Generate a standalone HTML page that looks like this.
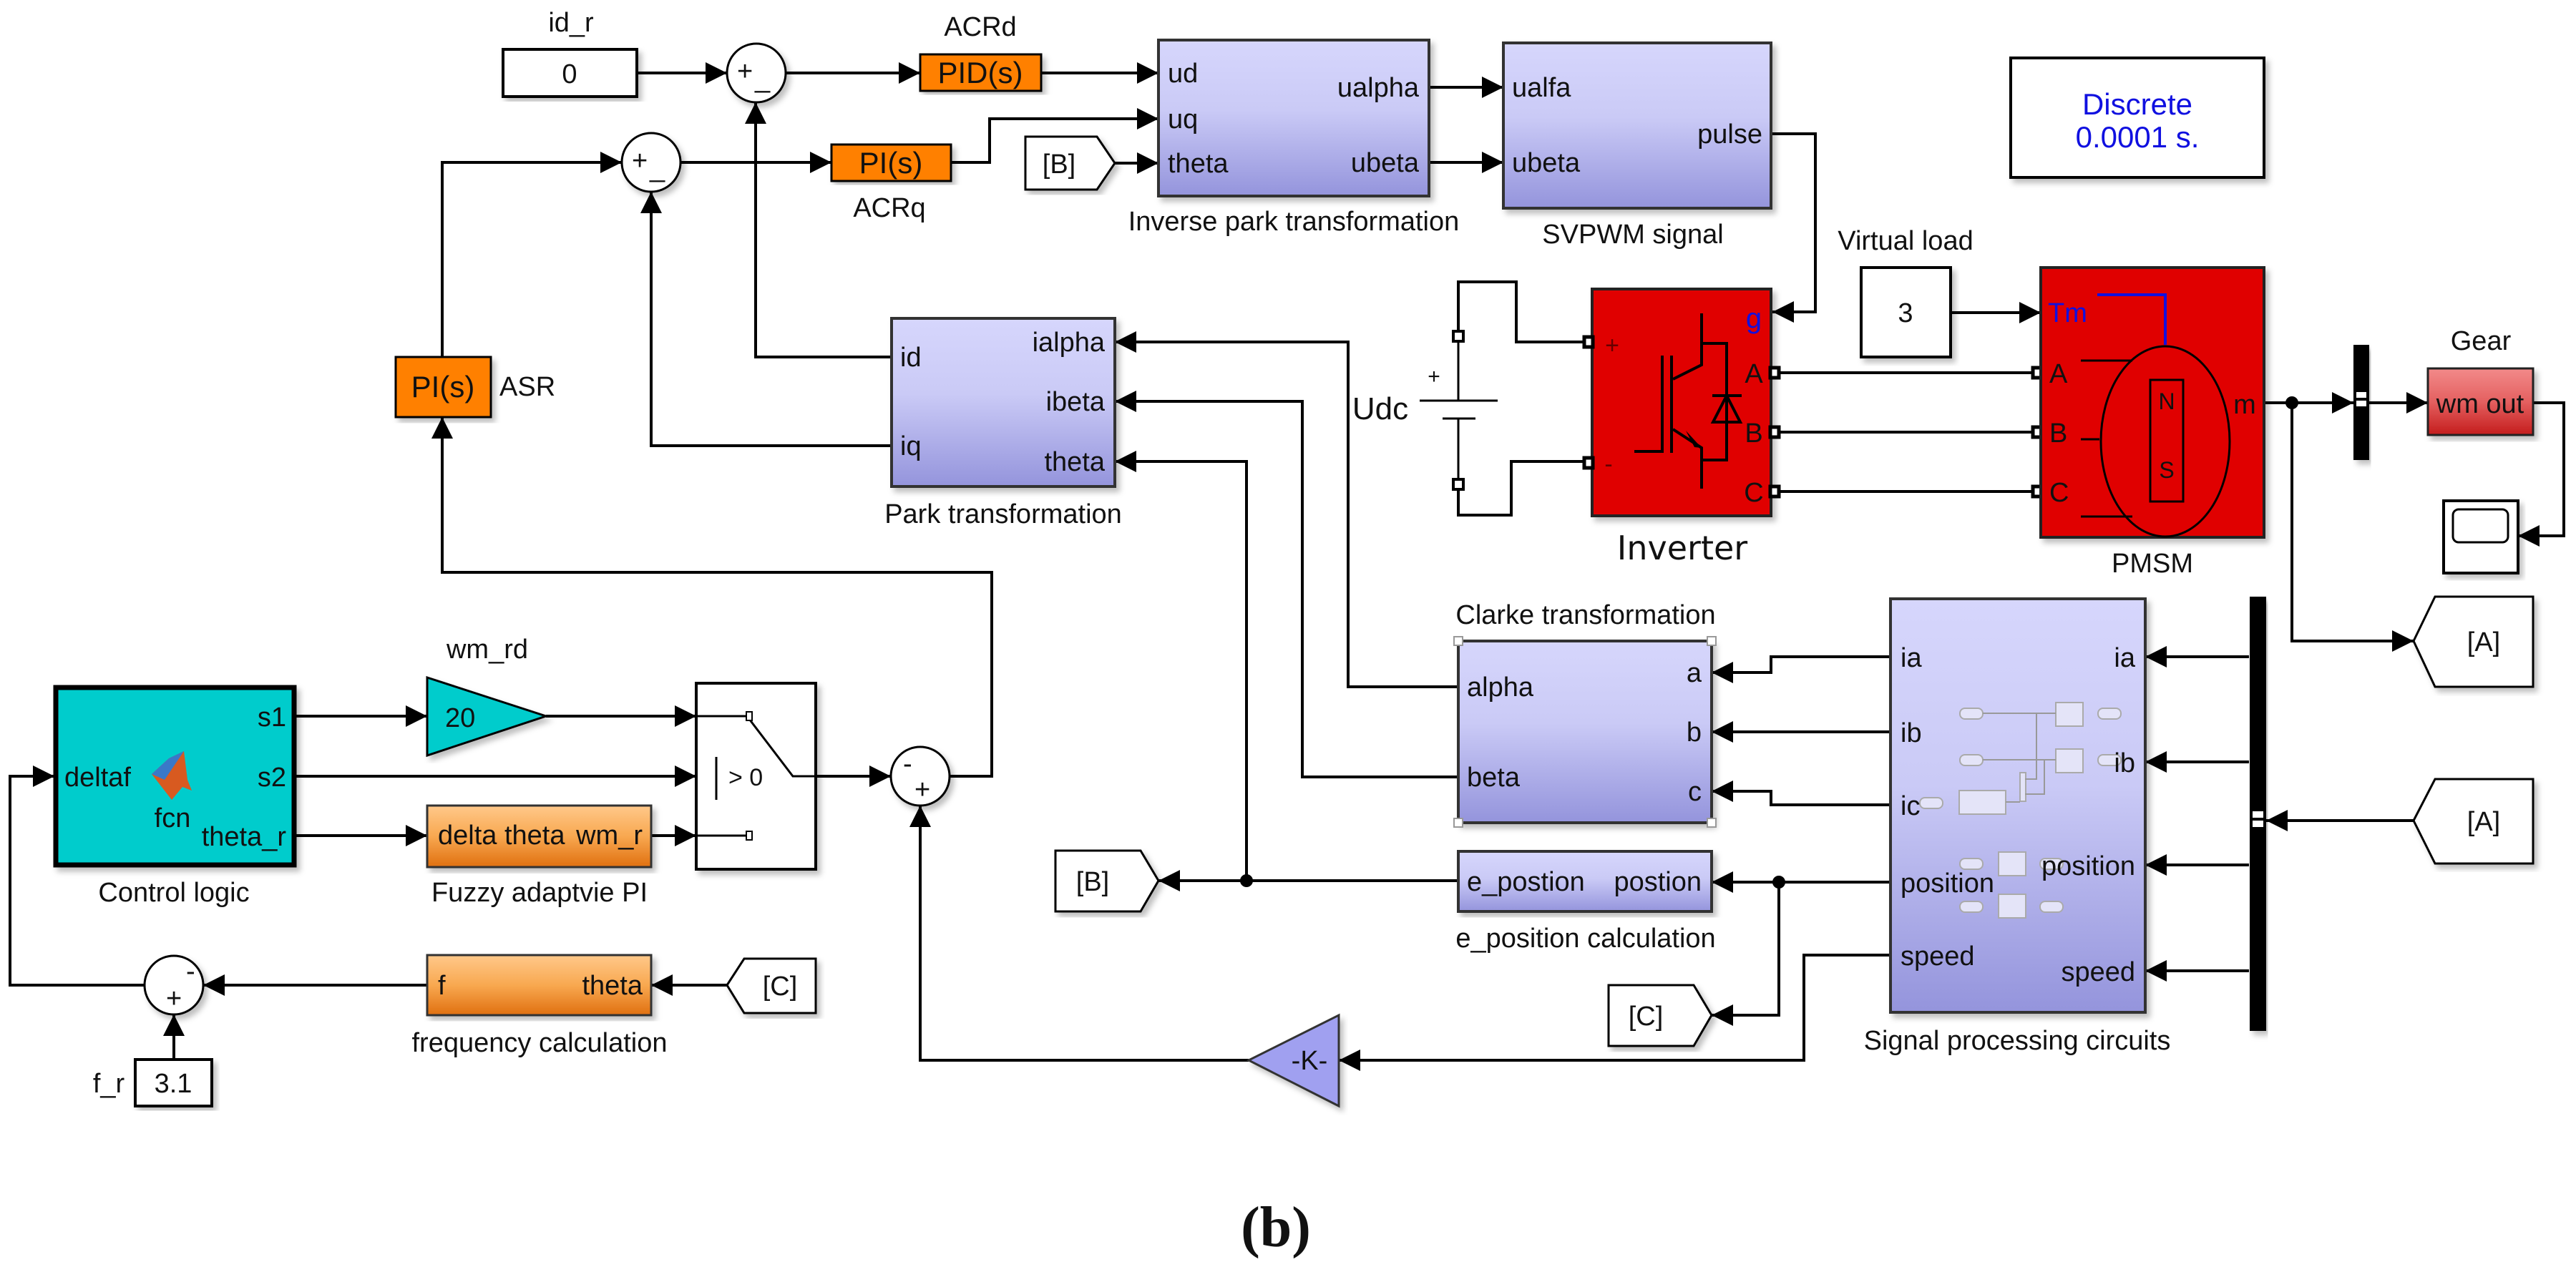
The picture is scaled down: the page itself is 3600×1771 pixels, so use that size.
<!DOCTYPE html>
<html><head><meta charset="utf-8"><style>
html,body{margin:0;padding:0;background:#fff;}
svg{display:block;}
text{font-family:"Liberation Sans",Arial,sans-serif;font-size:38px;fill:#111;}
</style></head><body>
<svg width="3600" height="1771" viewBox="0 0 3600 1771" xmlns="http://www.w3.org/2000/svg">
<defs>
<marker id="a" markerWidth="30" markerHeight="30" refX="30" refY="15" orient="auto" markerUnits="userSpaceOnUse"><path d="M0,0 L30,15 L0,30z" fill="#000"/></marker>
<linearGradient id="lav" x1="0" y1="0" x2="0" y2="1"><stop offset="0" stop-color="#d6d6fc"/><stop offset="0.45" stop-color="#cacaf6"/><stop offset="1" stop-color="#9494dc"/></linearGradient>
<linearGradient id="org" x1="0" y1="0" x2="0" y2="1"><stop offset="0" stop-color="#ffc88a"/><stop offset="0.5" stop-color="#f8a850"/><stop offset="1" stop-color="#e07010"/></linearGradient>
<linearGradient id="gear" x1="0" y1="0" x2="0" y2="1"><stop offset="0" stop-color="#f28a8a"/><stop offset="0.5" stop-color="#e46060"/><stop offset="1" stop-color="#c41c1c"/></linearGradient>
<filter id="sh" x="-5%" y="-5%" width="115%" height="115%"><feDropShadow dx="5" dy="6" stdDeviation="4" flood-color="#000" flood-opacity="0.25"/></filter>
</defs>

<g fill="none" stroke="#000" stroke-width="4">
<!-- top loops -->
<path d="M890,102 H1016" marker-end="url(#a)"/>
<path d="M1098,102 H1286" marker-end="url(#a)"/>
<path d="M1455,102 H1619" marker-end="url(#a)"/>
<path d="M1329,227 H1383 V166 H1619" marker-end="url(#a)"/>
<path d="M1558,228 H1619" marker-end="url(#a)"/>
<path d="M1997,122 H2101" marker-end="url(#a)"/>
<path d="M1997,227 H2101" marker-end="url(#a)"/>
<path d="M2475,187 H2537 V436 H2477" marker-end="url(#a)"/>
<path d="M951,227 H1162" marker-end="url(#a)"/>
<path d="M618,499 V227 H869" marker-end="url(#a)"/>
<path d="M1246,499 H1056 V143" marker-end="url(#a)"/>
<path d="M1246,623 H910 V268" marker-end="url(#a)"/>
<path d="M1327,1085 H1386 V800 H618 V583" marker-end="url(#a)"/>
<!-- park inputs -->
<path d="M2038,960 H1884 V478 H1558" marker-end="url(#a)"/>
<path d="M2038,1086 H1820 V561 H1558" marker-end="url(#a)"/>
<path d="M1742,1231 V645 H1558" marker-end="url(#a)"/>
<path d="M2038,1231 H1619" marker-end="url(#a)"/>
<path d="M2644,1233 H2392" marker-end="url(#a)"/>
<path d="M2486,1233 V1419 H2392" marker-end="url(#a)"/>
<path d="M2644,1335 H2521 V1482 H1871" marker-end="url(#a)"/>
<path d="M1745,1482 H1286 V1126" marker-end="url(#a)"/>
<path d="M2644,918 H2475 V940 H2392" marker-end="url(#a)"/>
<path d="M2644,1023 H2392" marker-end="url(#a)"/>
<path d="M2644,1125 H2475 V1106 H2392" marker-end="url(#a)"/>
<path d="M3143,918 H2998" marker-end="url(#a)"/>
<path d="M3143,1065 H2998" marker-end="url(#a)"/>
<path d="M3143,1209 H2998" marker-end="url(#a)"/>
<path d="M3143,1357 H2998" marker-end="url(#a)"/>
<path d="M3373,1147 H3167" marker-end="url(#a)"/>
<path d="M3164,563 H3289" marker-end="url(#a)"/>
<path d="M3203,563 V896 H3373" marker-end="url(#a)"/>
<path d="M3311,563 H3393" marker-end="url(#a)"/>
<path d="M3540,563 H3583 V749 H3519" marker-end="url(#a)"/>
<path d="M2726,437 H2852" marker-end="url(#a)"/>
<path d="M2475,521 H2852 M2475,604 H2852 M2475,687 H2852"/>
<!-- control -->
<path d="M413,1001 H597" marker-end="url(#a)"/>
<path d="M763,1001 H973" marker-end="url(#a)"/>
<path d="M413,1085 H973" marker-end="url(#a)"/>
<path d="M413,1168 H597" marker-end="url(#a)"/>
<path d="M910,1168 H973" marker-end="url(#a)"/>
<path d="M1140,1085 H1245" marker-end="url(#a)"/>
<path d="M1016,1377 H910" marker-end="url(#a)"/>
<path d="M597,1377 H284" marker-end="url(#a)"/>
<path d="M202,1377 H14 V1085 H76" marker-end="url(#a)"/>
<path d="M243,1481 V1418" marker-end="url(#a)"/>
<!-- battery wiring -->
<path d="M2038,470 V394 H2119 V478 H2225"/>
<path d="M2038,677 V720 H2112 V645 H2225"/>
</g>
<circle cx="1742" cy="1231" r="9"/><circle cx="2486" cy="1233" r="9"/><circle cx="3203" cy="563" r="9"/>

<!-- const 0 -->
<rect x="703" y="69" width="187" height="66" fill="#fff" stroke="#000" stroke-width="4" filter="url(#sh)"/>
<text x="796" y="116" text-anchor="middle">0</text>
<text x="798" y="44" text-anchor="middle">id_r</text>
<!-- sums -->
<g fill="#fff" stroke="#000" stroke-width="3" filter="url(#sh)">
<circle cx="1057" cy="102" r="41"/><circle cx="910" cy="227" r="41"/><circle cx="1286" cy="1085" r="41"/><circle cx="243" cy="1377" r="41"/></g>
<g style="font-size:28px">
<text x="1030" y="112">+</text><text x="1055" y="122">_</text>
<text x="883" y="237">+</text><text x="908" y="247">_</text>
<text x="1262" y="1080">-</text><text x="1278" y="1116">+</text>
<text x="260" y="1370">-</text><text x="232" y="1408">+</text></g>
<!-- PID / PI -->
<rect x="1286" y="76" width="169" height="51" fill="#ff8000" stroke="#000" stroke-width="3" filter="url(#sh)"/>
<text x="1370" y="116" text-anchor="middle" style="font-size:42px">PID(s)</text>
<text x="1370" y="50" text-anchor="middle">ACRd</text>
<rect x="1162" y="202" width="167" height="51" fill="#ff8000" stroke="#000" stroke-width="3" filter="url(#sh)"/>
<text x="1245" y="242" text-anchor="middle" style="font-size:42px">PI(s)</text>
<text x="1243" y="303" text-anchor="middle">ACRq</text>
<rect x="553" y="499" width="133" height="84" fill="#ff8000" stroke="#000" stroke-width="3" filter="url(#sh)"/>
<text x="619" y="555" text-anchor="middle" style="font-size:42px">PI(s)</text>
<text x="698" y="553">ASR</text>
<!-- goto B top -->
<path d="M1433,191 H1533 L1558,228 L1533,265 H1433Z" fill="#fff" stroke="#000" stroke-width="3" filter="url(#sh)"/>
<text x="1480" y="242" text-anchor="middle">[B]</text>
<!-- inverse park -->
<rect x="1619" y="56" width="378" height="218" fill="url(#lav)" stroke="#333" stroke-width="4" filter="url(#sh)"/>
<text x="1632" y="115">ud</text><text x="1632" y="179">uq</text><text x="1632" y="241">theta</text>
<text x="1983" y="135" text-anchor="end">ualpha</text><text x="1983" y="240" text-anchor="end">ubeta</text>
<text x="1808" y="322" text-anchor="middle">Inverse park transformation</text>
<!-- SVPWM -->
<rect x="2101" y="60" width="374" height="231" fill="url(#lav)" stroke="#333" stroke-width="4" filter="url(#sh)"/>
<text x="2113" y="135">ualfa</text><text x="2113" y="240">ubeta</text><text x="2463" y="200" text-anchor="end">pulse</text>
<text x="2282" y="340" text-anchor="middle">SVPWM signal</text>
<!-- Discrete -->
<rect x="2810" y="81" width="354" height="167" fill="#fff" stroke="#000" stroke-width="4" filter="url(#sh)"/>
<text x="2987" y="160" text-anchor="middle" style="fill:#1010e0;font-size:42px">Discrete</text>
<text x="2987" y="206" text-anchor="middle" style="fill:#1010e0;font-size:42px">0.0001 s.</text>
<!-- Park -->
<rect x="1246" y="445" width="312" height="235" fill="url(#lav)" stroke="#333" stroke-width="4" filter="url(#sh)"/>
<text x="1258" y="512">id</text><text x="1258" y="636">iq</text>
<text x="1544" y="491" text-anchor="end">ialpha</text><text x="1544" y="574" text-anchor="end">ibeta</text><text x="1544" y="658" text-anchor="end">theta</text>
<text x="1402" y="731" text-anchor="middle">Park transformation</text>
<!-- Battery -->
<g stroke="#000" stroke-width="3" fill="none">
<path d="M2038,474 V560 M1984,560 H2093 M2016,585 H2062 M2038,585 V673"/></g>
<rect x="2031" y="463" width="14" height="14" fill="#fff" stroke="#000" stroke-width="4"/>
<rect x="2031" y="670" width="14" height="14" fill="#fff" stroke="#000" stroke-width="4"/>
<text x="2004" y="536" text-anchor="middle" style="font-size:30px">+</text>
<text x="1929" y="586" text-anchor="middle" style="font-size:44px">Udc</text>
<!-- Inverter -->
<rect x="2225" y="404" width="250" height="317" fill="#e00000" stroke="#222" stroke-width="4" filter="url(#sh)"/>
<g stroke="#000" stroke-width="4" fill="none">
<path d="M2378,438 V510 L2338,530 M2378,480 H2413 V643 H2378 M2338,600 L2378,626 V683 M2323,497 V633 M2336,497 V633 M2284,631 H2323"/>
<path d="M2393,553 H2434 M2413,553 L2394,590 H2432Z"/>
</g>
<path d="M2378,626 L2356,602 L2368,625Z" fill="#000"/>
<text x="2451" y="458" text-anchor="middle" style="fill:#1010e0;font-size:40px">g</text>
<text x="2451" y="535" text-anchor="middle">A</text><text x="2451" y="618" text-anchor="middle">B</text><text x="2451" y="701" text-anchor="middle">C</text>
<text x="2253" y="494" text-anchor="middle" style="fill:#600;font-size:34px">+</text>
<text x="2248" y="660" text-anchor="middle" style="fill:#600;font-size:34px">-</text>
<g fill="#fff" stroke="#000" stroke-width="5">
<rect x="2214" y="471" width="12" height="14"/><rect x="2214" y="640" width="12" height="14"/>
<rect x="2474" y="514" width="12" height="14"/><rect x="2474" y="597" width="12" height="14"/><rect x="2474" y="680" width="12" height="14"/>
<rect x="2841" y="514" width="12" height="14"/><rect x="2841" y="597" width="12" height="14"/><rect x="2841" y="680" width="12" height="14"/></g>
<text x="2351" y="782" text-anchor="middle" style="font-family:'DejaVu Sans',sans-serif;font-size:46px">Inverter</text>
<!-- Virtual load -->
<rect x="2601" y="374" width="125" height="125" fill="#fff" stroke="#000" stroke-width="4" filter="url(#sh)"/>
<text x="2663" y="450" text-anchor="middle">3</text>
<text x="2663" y="349" text-anchor="middle">Virtual load</text>
<!-- PMSM -->
<rect x="2852" y="374" width="312" height="377" fill="#e00000" stroke="#222" stroke-width="4" filter="url(#sh)"/>
<path d="M2931,412 H3026 V482" fill="none" stroke="#1010e0" stroke-width="4"/>
<ellipse cx="3026" cy="617" rx="90" ry="133" fill="none" stroke="#000" stroke-width="3"/>
<rect x="3005" y="531" width="46" height="170" fill="none" stroke="#000" stroke-width="3"/>
<path d="M2908,504 H2980 M2908,722 H2980 M2908,614 H2934" stroke="#000" stroke-width="3"/>
<text x="3028" y="572" text-anchor="middle" style="font-size:32px">N</text>
<text x="3028" y="668" text-anchor="middle" style="font-size:32px">S</text>
<text x="2862" y="450" style="fill:#1010e0">Tm</text>
<text x="2864" y="535">A</text><text x="2864" y="618">B</text><text x="2864" y="701">C</text>
<text x="3137" y="578" text-anchor="middle">m</text>
<text x="3008" y="800" text-anchor="middle">PMSM</text>
<!-- mux bar -->
<rect x="3289" y="482" width="22" height="161" fill="#000" filter="url(#sh)"/>
<rect x="3293" y="548" width="14" height="8" fill="#fff"/><rect x="3293" y="560" width="14" height="8" fill="#fff"/>
<!-- Gear -->
<rect x="3393" y="515" width="147" height="93" fill="url(#gear)" stroke="#222" stroke-width="3" filter="url(#sh)"/>
<text x="3466" y="577" text-anchor="middle">wm out</text>
<text x="3467" y="489" text-anchor="middle">Gear</text>
<!-- Scope -->
<rect x="3415" y="700" width="104" height="101" fill="#fff" stroke="#000" stroke-width="4" filter="url(#sh)"/>
<rect x="3428" y="712" width="77" height="46" rx="8" fill="#fff" stroke="#000" stroke-width="3"/>
<!-- A gotos -->
<path d="M3373,896 L3403,834 H3540 V960 H3403Z" fill="#fff" stroke="#000" stroke-width="3" filter="url(#sh)"/>
<text x="3471" y="910" text-anchor="middle">[A]</text>
<path d="M3373,1147 L3403,1089 H3540 V1207 H3403Z" fill="#fff" stroke="#000" stroke-width="3" filter="url(#sh)"/>
<text x="3471" y="1161" text-anchor="middle">[A]</text>
<!-- bus right -->
<rect x="3144" y="834" width="23" height="607" fill="#000" filter="url(#sh)"/>
<rect x="3148" y="1134" width="15" height="9" fill="#fff"/><rect x="3148" y="1147" width="15" height="9" fill="#fff"/>
<!-- Clarke -->
<rect x="2038" y="896" width="354" height="254" fill="url(#lav)" stroke="#333" stroke-width="4" filter="url(#sh)"/>
<g fill="#fff" stroke="#999" stroke-width="2"><rect x="2032" y="890" width="12" height="12"/><rect x="2386" y="890" width="12" height="12"/><rect x="2032" y="1144" width="12" height="12"/><rect x="2386" y="1144" width="12" height="12"/></g>
<text x="2050" y="973">alpha</text><text x="2050" y="1099">beta</text>
<text x="2378" y="953" text-anchor="end">a</text><text x="2378" y="1036" text-anchor="end">b</text><text x="2378" y="1119" text-anchor="end">c</text>
<text x="2216" y="872" text-anchor="middle">Clarke transformation</text>
<!-- e_position -->
<rect x="2038" y="1190" width="354" height="84" fill="url(#lav)" stroke="#333" stroke-width="4" filter="url(#sh)"/>
<text x="2050" y="1245">e_postion</text><text x="2378" y="1245" text-anchor="end">postion</text>
<text x="2216" y="1324" text-anchor="middle">e_position calculation</text>
<!-- B goto lower -->
<path d="M1475,1189 H1594 L1619,1231 L1594,1274 H1475Z" fill="#fff" stroke="#000" stroke-width="3" filter="url(#sh)"/>
<text x="1527" y="1245" text-anchor="middle">[B]</text>
<!-- C goto -->
<path d="M2248,1377 H2367 L2392,1419 L2367,1462 H2248Z" fill="#fff" stroke="#000" stroke-width="3" filter="url(#sh)"/>
<text x="2300" y="1433" text-anchor="middle">[C]</text>
<!-- SPC -->
<rect x="2642" y="837" width="356" height="578" fill="url(#lav)" stroke="#333" stroke-width="4" filter="url(#sh)"/>
<g fill="#e4e4f8" stroke="#aaa" stroke-width="2">
<rect x="2739" y="990" width="32" height="15" rx="7"/><rect x="2932" y="990" width="32" height="15" rx="7"/><rect x="2873" y="982" width="38" height="33"/>
<rect x="2739" y="1055" width="32" height="15" rx="7"/><rect x="2932" y="1055" width="32" height="15" rx="7"/><rect x="2873" y="1047" width="38" height="33"/>
<rect x="2683" y="1115" width="32" height="15" rx="7"/><rect x="2738" y="1105" width="65" height="33"/><rect x="2823" y="1080" width="8" height="40"/>
<rect x="2739" y="1200" width="32" height="15" rx="7"/><rect x="2851" y="1200" width="32" height="15" rx="7"/><rect x="2793" y="1191" width="38" height="33"/>
<rect x="2739" y="1260" width="32" height="15" rx="7"/><rect x="2851" y="1260" width="32" height="15" rx="7"/><rect x="2793" y="1250" width="38" height="33"/>
</g>
<path d="M2771,997 H2873 M2771,1062 H2873 M2846,997 V1089 H2830 M2857,1062 V1110 H2830 M2803,1121 H2823" stroke="#999" stroke-width="2" fill="none"/>
<text x="2656" y="932">ia</text><text x="2656" y="1037">ib</text><text x="2656" y="1139">ic</text><text x="2656" y="1247">position</text><text x="2656" y="1349">speed</text>
<text x="2984" y="932" text-anchor="end">ia</text><text x="2984" y="1079" text-anchor="end">ib</text><text x="2984" y="1223" text-anchor="end">position</text><text x="2984" y="1371" text-anchor="end">speed</text>
<text x="2819" y="1467" text-anchor="middle">Signal processing circuits</text>
<!-- -K- -->
<path d="M1871,1419 V1546 L1745,1482Z" fill="#a0a0f0" stroke="#333" stroke-width="3" filter="url(#sh)"/>
<text x="1830" y="1495" text-anchor="middle">-K-</text>
<!-- Control logic -->
<rect x="78" y="961" width="333" height="248" fill="#00cccc" stroke="#000" stroke-width="7" filter="url(#sh)"/>
<path d="M212,1082 L236,1060 L257,1050 L262,1090 L268,1105 L255,1100 L240,1118 Z" fill="#d85a20"/>
<path d="M212,1082 L236,1060 L257,1050 L230,1090Z" fill="#3a78c8"/>
<text x="90" y="1099">deltaf</text>
<text x="241" y="1156" text-anchor="middle">fcn</text>
<text x="400" y="1015" text-anchor="end">s1</text><text x="400" y="1099" text-anchor="end">s2</text><text x="400" y="1182" text-anchor="end">theta_r</text>
<text x="243" y="1260" text-anchor="middle">Control logic</text>
<!-- gain 20 -->
<path d="M597,947 L763,1001 L597,1056Z" fill="#00cccc" stroke="#000" stroke-width="3" filter="url(#sh)"/>
<text x="622" y="1016">20</text>
<text x="681" y="920" text-anchor="middle">wm_rd</text>
<!-- Fuzzy -->
<rect x="597" y="1126" width="313" height="86" fill="url(#org)" stroke="#333" stroke-width="3" filter="url(#sh)"/>
<text x="612" y="1180">delta theta</text><text x="898" y="1180" text-anchor="end">wm_r</text>
<text x="754" y="1260" text-anchor="middle">Fuzzy adaptvie PI</text>
<!-- Switch -->
<rect x="973" y="955" width="167" height="260" fill="#fff" stroke="#000" stroke-width="4" filter="url(#sh)"/>
<g stroke="#000" stroke-width="3" fill="none"><path d="M975,1001 H1043 M975,1168 H1043 M1047,1005 L1108,1085 H1140 M1001,1058 V1118"/></g>
<g stroke="#000" stroke-width="2" fill="#fff"><rect x="1043" y="995" width="8" height="12"/><rect x="1043" y="1162" width="8" height="12"/></g>
<text x="1018" y="1098" style="font-size:34px">&gt; 0</text>
<!-- freq calc -->
<rect x="597" y="1335" width="313" height="84" fill="url(#org)" stroke="#333" stroke-width="3" filter="url(#sh)"/>
<text x="612" y="1390">f</text><text x="898" y="1390" text-anchor="end">theta</text>
<text x="754" y="1470" text-anchor="middle">frequency calculation</text>
<!-- C from -->
<path d="M1016,1377 L1040,1340 H1140 V1416 H1040Z" fill="#fff" stroke="#000" stroke-width="3" filter="url(#sh)"/>
<text x="1090" y="1391" text-anchor="middle">[C]</text>
<!-- 3.1 -->
<rect x="189" y="1481" width="107" height="65" fill="#fff" stroke="#000" stroke-width="4" filter="url(#sh)"/>
<text x="242" y="1527" text-anchor="middle">3.1</text>
<text x="152" y="1527" text-anchor="middle">f_r</text>
<!-- (b) -->
<text x="1783" y="1742" text-anchor="middle" style="font-family:'Liberation Serif',serif;font-weight:bold;font-size:80px">(b)</text>
</svg>
</body></html>
